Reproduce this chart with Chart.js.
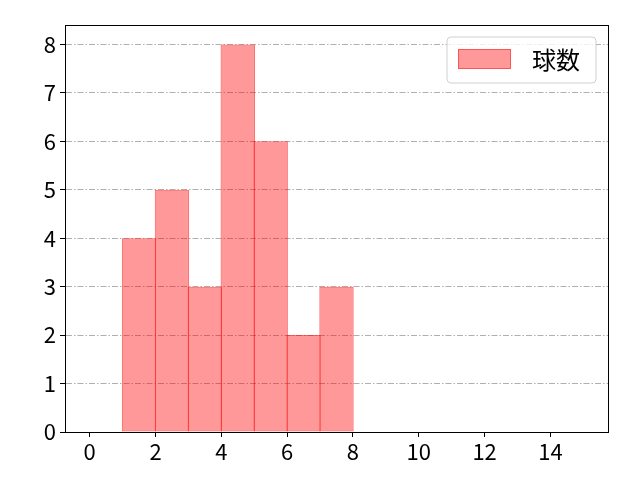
<!DOCTYPE html>
<html><head><meta charset="utf-8">
<script src="https://cdn.jsdelivr.net/npm/chart.js@4/dist/chart.umd.min.js"></script>
<style>html,body{margin:0;padding:0;background:#fff}#wrap{width:640px;height:480px}</style>
</head><body><div id="wrap"><canvas id="c" width="640" height="480"></canvas></div>
<script>
const binStarts = [1, 2, 3, 4, 5, 6, 7];
const counts = [4, 5, 3, 8, 6, 2, 3];
const xTicks = [0, 2, 4, 6, 8, 10, 12, 14];
const yTicks = [0, 1, 2, 3, 4, 5, 6, 7, 8];
const seriesLabel = '球数';
const FONT = "'Noto Sans CJK JP', 'DejaVu Sans', sans-serif";

const framePlugin = {
  id: 'frame',
  afterDraw(chart) {
    const {ctx, chartArea: a} = chart;
    ctx.save();
    ctx.strokeStyle = '#000';
    ctx.lineWidth = 1;
    ctx.strokeRect(Math.round(a.left) + 0.5, Math.round(a.top) + 0.5, Math.round(a.right - a.left), Math.round(a.bottom - a.top));
    // legend
    const bx = 447, by = 37, bw = 149, bh = 46, r = 4;
    ctx.beginPath();
    ctx.moveTo(bx + r, by);
    ctx.arcTo(bx + bw, by, bx + bw, by + bh, r);
    ctx.arcTo(bx + bw, by + bh, bx, by + bh, r);
    ctx.arcTo(bx, by + bh, bx, by, r);
    ctx.arcTo(bx, by, bx + bw, by, r);
    ctx.closePath();
    ctx.fillStyle = 'rgba(255,255,255,0.8)';
    ctx.fill();
    ctx.strokeStyle = '#d0d0d0';
    ctx.stroke();
    ctx.fillStyle = 'rgba(255,0,0,0.4)';
    ctx.fillRect(458, 49, 53, 20);
    ctx.strokeStyle = 'rgba(255,0,0,0.45)';
    ctx.strokeRect(458.5, 49.5, 52, 19);
    ctx.fillStyle = '#000';
    ctx.font = '24px ' + FONT;
    ctx.textBaseline = 'middle';
    ctx.textAlign = 'left';
    ctx.fillText(seriesLabel, 532, 60);
    ctx.restore();
  }
};

new Chart(document.getElementById('c'), {
  type: 'bar',
  data: {
    datasets: [{
      label: seriesLabel,
      data: binStarts.map((s, i) => ({x: s + 0.5, y: counts[i]})),
      backgroundColor: 'rgba(255,0,0,0.4)',
      borderColor: 'rgba(255,0,0,0.6)',
      borderWidth: 1,
      barPercentage: 1.045,
      categoryPercentage: 1,
      borderSkipped: false
    }]
  },
  options: {
    responsive: false,
    animation: false,
    devicePixelRatio: 1,
    layout: {padding: {top: 25, right: 32, left: 0, bottom: 0}},
    plugins: {legend: {display: false}, tooltip: {enabled: false}},
    scales: {
      x: {
        type: 'linear',
        offset: false,
        min: -0.75, max: 15.75,
        afterBuildTicks: s => { s.ticks = xTicks.map(v => ({value: v})); },
        afterFit: s => { s.height = 48; },
        grid: {offset: false, drawOnChartArea: false, drawTicks: true, tickLength: 5, tickColor: '#000', tickWidth: 1},
        border: {display: true, color: '#000', width: 1},
        ticks: {color: '#000', font: {family: FONT, size: 22}, padding: 1, maxRotation: 0, autoSkip: false}
      },
      y: {
        min: 0, max: 8.4,
        afterBuildTicks: s => { s.ticks = yTicks.map(v => ({value: v})); },
        afterFit: s => { s.width = 65; },
        grid: {drawOnChartArea: true, color: '#b0b0b0', lineWidth: 1, tickColor: '#000', tickLength: 5, tickWidth: 1,
               tickBorderDash: []},
        border: {display: true, color: '#000', width: 1, dash: [6, 2, 1.5, 2]},
        ticks: {color: '#000', font: {family: FONT, size: 22}, padding: 4, autoSkip: false}
      }
    }
  },
  plugins: [framePlugin]
});
</script></body></html>
